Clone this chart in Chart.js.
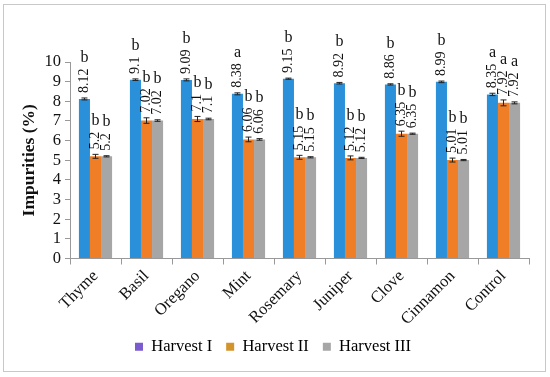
<!DOCTYPE html>
<html>
<head>
<meta charset="utf-8">
<script src="https://cdn.jsdelivr.net/npm/chart.js@4/dist/chart.umd.min.js"></script>
<style>
  body { margin: 0; background: #fff; }
  #wrap { position: relative; width: 550px; height: 377px; }
  #frame { position: absolute; left: 3px; top: 4px; width: 541px; height: 366px; border: 1px solid #c8c8c8; pointer-events: none; }
</style>
</head>
<body>
<div id="wrap">
  <canvas id="impChart" width="550" height="377"></canvas>
  <div id="frame"></div>
</div>
<script>
const categories = ['Thyme', 'Basil', 'Oregano', 'Mint', 'Rosemary', 'Juniper', 'Clove', 'Cinnamon', 'Control'];
const harvest1 = [8.12, 9.1, 9.09, 8.38, 9.15, 8.92, 8.86, 8.99, 8.35];
const harvest2 = [5.2, 7.02, 7.1, 6.06, 5.15, 5.12, 6.35, 5.01, 7.92];
const harvest3 = [5.2, 7.02, 7.1, 6.06, 5.15, 5.12, 6.35, 5.01, 7.92];
const err1 = [0.05, 0.04, 0.05, 0.05, 0.03, 0.04, 0.03, 0.04, 0.06];
const err2 = [0.1, 0.14, 0.13, 0.12, 0.1, 0.1, 0.13, 0.1, 0.15];
const err3 = [0.03, 0.04, 0.04, 0.04, 0.03, 0.03, 0.03, 0.03, 0.05];
const letters1 = ['b', 'b', 'b', 'a', 'b', 'b', 'b', 'b', 'a'];
const letters2 = ['b', 'b', 'b', 'b', 'b', 'b', 'b', 'b', 'a'];
const letters3 = ['b', 'b', 'b', 'b', 'b', 'b', 'b', 'b', 'a'];

const serif = '"Liberation Serif", "DejaVu Serif", serif';

// error bars, rotated values and letters above each bar
const barNotes = {
  id: 'barNotes',
  afterDatasetsDraw(chart) {
    const ctx = chart.ctx;
    const y = chart.scales.y;
    chart.data.datasets.forEach((ds, di) => {
      const meta = chart.getDatasetMeta(di);
      meta.data.forEach((bar, i) => {
        const v = ds.data[i];
        const e = ds.errors[i];
        const yHi = y.getPixelForValue(v + e);
        const yLo = y.getPixelForValue(v - e);
        ctx.save();
        ctx.strokeStyle = '#222';
        ctx.lineWidth = 1;
        ctx.beginPath();
        ctx.moveTo(bar.x, yHi); ctx.lineTo(bar.x, yLo);
        ctx.moveTo(bar.x - 3, yHi); ctx.lineTo(bar.x + 3, yHi);
        ctx.moveTo(bar.x - 3, yLo); ctx.lineTo(bar.x + 3, yLo);
        ctx.stroke();

        const txt = String(v);
        ctx.font = '14px ' + serif;
        const w = ctx.measureText(txt).width;
        const base = yHi - 5;
        ctx.fillStyle = '#111';
        ctx.translate(bar.x, base);
        ctx.rotate(-Math.PI / 2);
        ctx.textAlign = 'left';
        ctx.textBaseline = 'middle';
        ctx.fillText(txt, 0, 0);
        ctx.restore();

        ctx.save();
        ctx.font = '16px ' + serif;
        ctx.fillStyle = '#111';
        ctx.textAlign = 'center';
        ctx.textBaseline = 'bottom';
        ctx.fillText(ds.letters[i], bar.x, base - w - 3);
        ctx.restore();
      });
    });
  }
};

new Chart(document.getElementById('impChart').getContext('2d'), {
  type: 'bar',
  data: {
    labels: categories,
    datasets: [
      { label: 'Harvest I', data: harvest1, errors: err1, letters: letters1, backgroundColor: '#2a90d9', legendColor: '#7a5cd0' },
      { label: 'Harvest II', data: harvest2, errors: err2, letters: letters2, backgroundColor: '#f07e26', legendColor: '#d4942c' },
      { label: 'Harvest III', data: harvest3, errors: err3, letters: letters3, backgroundColor: '#a6a6a6', legendColor: '#a6a6a6' }
    ]
  },
  options: {
    responsive: false,
    animation: false,
    layout: { padding: { left: 17, right: 21, top: 62, bottom: 12 } },
    datasets: { bar: { categoryPercentage: 0.65, barPercentage: 1 } },
    plugins: {
      tooltip: { enabled: false },
      legend: {
        position: 'bottom',
        labels: {
          font: { family: serif, size: 16.5 },
          color: '#111',
          boxWidth: 8,
          boxHeight: 8,
          padding: 14,
          generateLabels(chart) {
            return chart.data.datasets.map((ds, i) => ({
              text: ds.label,
              fillStyle: ds.legendColor,
              strokeStyle: ds.legendColor,
              lineWidth: 0,
              datasetIndex: i
            }));
          }
        }
      }
    },
    scales: {
      x: {
        grid: { display: true, drawOnChartArea: false, offset: true, color: '#999', tickLength: 6 },
        border: { color: '#999' },
        ticks: { font: { family: serif, size: 16.5 }, color: '#111', maxRotation: 45, minRotation: 45, padding: 2 },
        afterFit(scale) { scale.height = 66; }
      },
      y: {
        min: 0,
        max: 10,
        grid: { display: true, drawOnChartArea: false, color: '#999', tickLength: 5 },
        border: { color: '#999' },
        ticks: { font: { family: serif, size: 16.5 }, color: '#111', padding: 4, stepSize: 1, autoSkip: false },
        title: { display: true, text: 'Impurities (%)', font: { family: serif, size: 17.5, weight: 'bold' }, color: '#111', padding: 2 },
        afterFit(scale) { scale.width = 53; }
      }
    }
  },
  plugins: [barNotes]
});
</script>
</body>
</html>
